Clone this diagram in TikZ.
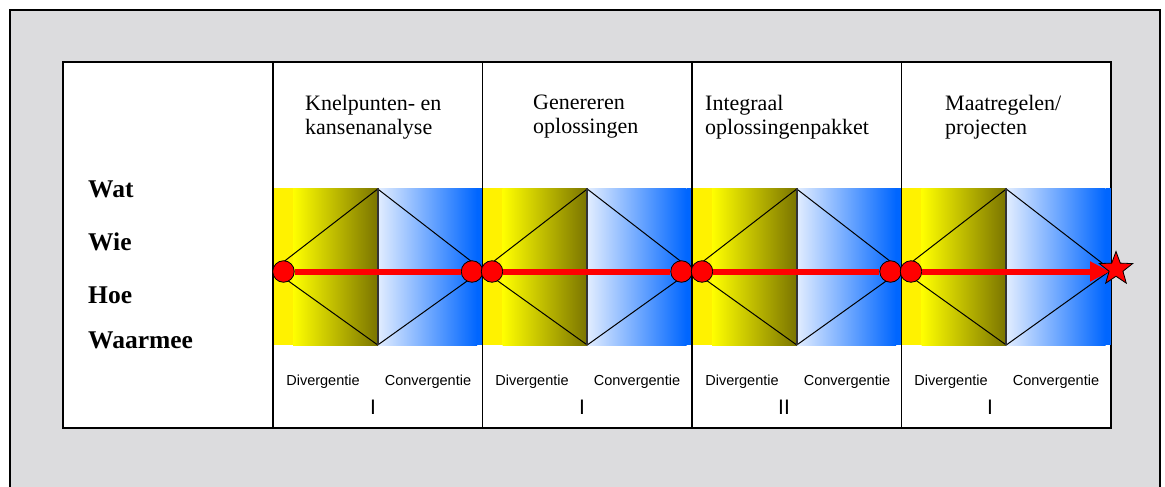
\documentclass[tikz,border=0pt]{standalone}
\usepackage{fontspec}
\setmainfont{Liberation Serif}
\setsansfont{Liberation Sans}
\usetikzlibrary{arrows.meta,shapes.geometric,positioning}

\definecolor{kader}{RGB}{220,220,222}
\definecolor{olijf}{RGB}{122,116,0}
\definecolor{lichtblauw}{RGB}{226,237,255}
\definecolor{blauw}{RGB}{0,102,255}

\tikzset{
  punt/.style={circle,draw=black,line width=0.8pt,fill=red,minimum size=21.5pt,inner sep=0pt},
  rood/.style={red,line width=6pt},
  kop/.style={font=\fontsize{22}{24}\selectfont,align=left,anchor=north west,inner sep=0pt},
  vraag/.style={font=\fontsize{25.5}{28}\selectfont\bfseries,anchor=base west,inner sep=0pt},
  fase/.style={font=\sffamily\fontsize{14.5}{17}\selectfont,inner sep=0pt},
  nummer/.style={font=\sffamily\fontsize{21}{24}\selectfont,inner sep=0pt}
}

\begin{document}
\begin{tikzpicture}[x=1pt,y=-1pt]
\useasboundingbox (0,0) rectangle (1165,487);
% Kader en tabel
\draw [fill=kader,line width=1.2pt] (10,10) rectangle (1160,500);
\draw [fill=white,line width=1.6pt] (63,62) rectangle (1111,428);
% Banden met ruiten
\foreach \l in {273,482.5,692,901.5}{
  \fill [yellow] (\l,188) rectangle (\l+20,345);
  \shade [left color=yellow,right color=olijf] (\l+20,188) rectangle (\l+104.75,345);
  \shade [left color=lichtblauw,right color=blauw] (\l+104.75,188) rectangle (\l+204,345);
  \fill [blauw] (\l+204,188) rectangle (\l+209.5,345);
  \draw [line width=1pt] (\l,270) -- (\l+104.75,189) -- (\l+209.5,270) -- (\l+104.75,345) -- cycle;
  \draw [line width=1.6pt,black!80] (\l+104.75,188) -- (\l+104.75,345);
  \draw [line width=1.3pt] (\l,62) -- (\l,428);
}
% Koppen
\node [kop] (k1) at (305,95) {Knelpunten- en\\kansenanalyse};
\node [kop] (k2) at (533,95) {Genereren\\oplossingen};
\node [kop] (k3) at (705,95) {Integraal\\oplossingenpakket};
\node [kop] (k4) at (945,95) {Maatregelen/\\projecten};
% Vragen
\node [vraag] (wat) at (88,197) {Wat};
\node [vraag] (wie) at (88,250) {Wie};
\node [vraag] (hoe) at (88,303) {Hoe};
\node [vraag] (waarmee) at (88,348) {Waarmee};
% Punten en pijlen
\node [punt] (a1) at (283.5,271.5) {};
\node [punt] (b1) at (472,271.5) {};
\node [punt] (a2) at (492,271.5) {};
\node [punt] (b2) at (681.5,271.5) {};
\node [punt] (a3) at (702,271.5) {};
\node [punt] (b3) at (890.5,271.5) {};
\node [punt] (a4) at (911,271.5) {};
\coordinate (eind) at (1110,271.5);
\draw [rood] (a1) -- (b1);
\draw [rood] (a2) -- (b2);
\draw [rood] (a3) -- (b3);
\draw [rood,-{Triangle[length=20pt,width=19pt]}] (a4) -- (eind);
\node [star,star points=5,star point ratio=2.4,minimum size=35pt,inner sep=0pt,draw=black,line width=0.8pt,fill=red] (ster) at (1116,269) {};
% Fasen
\node [fase] (d1) at (323,382) {Divergentie};
\node [fase] (c1) at (428,382) {Convergentie};
\node [fase] (d2) at (532,382) {Divergentie};
\node [fase] (c2) at (637,382) {Convergentie};
\node [fase] (d3) at (742,382) {Divergentie};
\node [fase] (c3) at (847,382) {Convergentie};
\node [fase] (d4) at (951,382) {Divergentie};
\node [fase] (c4) at (1056,382) {Convergentie};
\node [nummer] (n1) at (373,407) {I};
\node [nummer] (n2) at (582,407) {I};
\node [nummer] (n3) at (784,407) {II};
\node [nummer] (n4) at (990,407) {I};
\end{tikzpicture}
\end{document}
